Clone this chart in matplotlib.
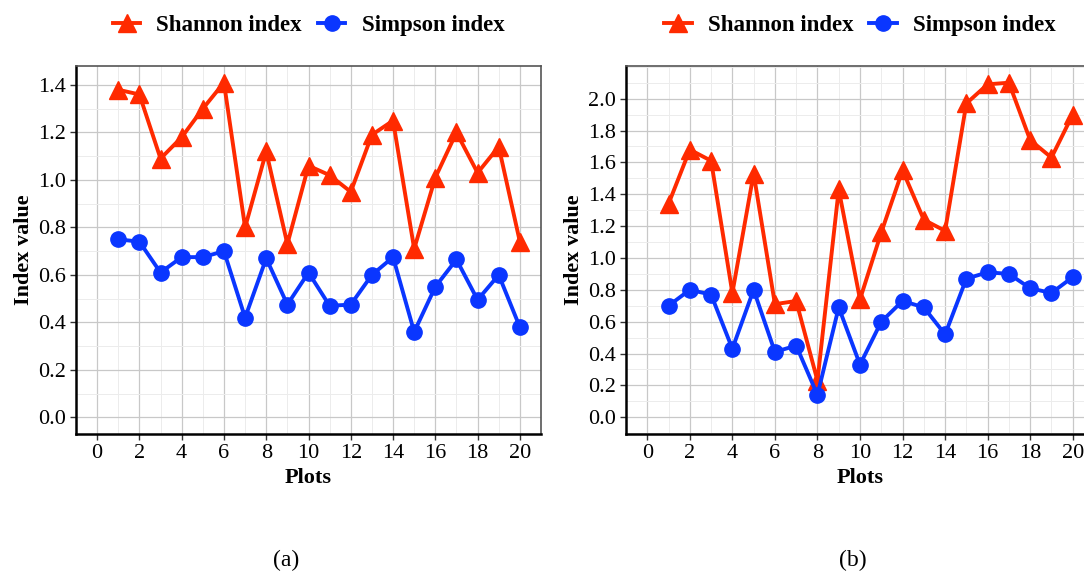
import numpy as np
import matplotlib
matplotlib.use("Agg")
import matplotlib.pyplot as plt
from matplotlib.ticker import MultipleLocator

plt.rcParams['font.family'] = ['Liberation Serif', 'DejaVu Serif']
plt.rcParams['font.size'] = 16

# Diversity indices per plot
plots = np.arange(1, 21)

shannon_a = [1.38, 1.36, 1.09, 1.18, 1.30, 1.41, 0.80, 1.12, 0.73, 1.06,
             1.02, 0.95, 1.19, 1.25, 0.71, 1.01, 1.20, 1.03, 1.14, 0.74]
simpson_a = [0.75, 0.74, 0.61, 0.675, 0.675, 0.70, 0.42, 0.67, 0.475, 0.61,
             0.47, 0.475, 0.60, 0.675, 0.36, 0.55, 0.665, 0.495, 0.60, 0.38]

shannon_b = [1.34, 1.68, 1.61, 0.78, 1.53, 0.71, 0.73, 0.23, 1.43, 0.74,
             1.16, 1.55, 1.24, 1.17, 1.97, 2.09, 2.10, 1.74, 1.63, 1.90]
simpson_b = [0.70, 0.80, 0.77, 0.43, 0.80, 0.41, 0.45, 0.14, 0.69, 0.33,
             0.60, 0.73, 0.69, 0.52, 0.87, 0.91, 0.90, 0.81, 0.78, 0.88]

red = '#ff2a00'
blue = '#0a36ff'

fig = plt.figure(figsize=(10.84, 5.76), dpi=100)
ax_a = fig.add_axes([76 / 1084, 142 / 576, 465 / 1084, 368 / 576])
ax_b = fig.add_axes([626 / 1084, 142 / 576, 468 / 1084, 368 / 576])


def draw_panel(ax, shannon, simpson, ymax, ylim):
    ax.plot(plots, shannon, color=red, lw=2.8, marker='^', ms=13,
            label='Shannon index', zorder=3)
    ax.plot(plots, simpson, color=blue, lw=2.8, marker='o', ms=11,
            label='Simpson index', zorder=3)
    ax.set_xlim(-1, 21)
    ax.set_ylim(*ylim)
    ax.xaxis.set_major_locator(MultipleLocator(2))
    ax.xaxis.set_minor_locator(MultipleLocator(1))
    ax.set_yticks(np.arange(0, ymax + 0.01, 0.2))
    ax.yaxis.set_minor_locator(MultipleLocator(0.1))
    ax.yaxis.set_major_formatter(matplotlib.ticker.FormatStrFormatter('%.1f'))
    ax.grid(which='major', color='#c8c8c8', lw=0.9)
    ax.grid(which='minor', color='#ececec', lw=0.7)
    ax.set_axisbelow(True)
    ax.tick_params(which='major', direction='out', length=4, width=1,
                   color='#333333', labelsize=16, pad=3)
    ax.tick_params(which='minor', length=0)
    for side in ('left', 'bottom'):
        ax.spines[side].set_color('black')
        ax.spines[side].set_linewidth(1.8)
    for side in ('top', 'right'):
        ax.spines[side].set_color('#555555')
        ax.spines[side].set_linewidth(1.2)
    ax.set_xlabel('Plots', fontweight='bold', fontsize=16, labelpad=4)
    ax.set_ylabel('Index value', fontweight='bold', fontsize=16, labelpad=3)
    ax.legend(loc='center', bbox_to_anchor=(0.5, 1.11), ncol=2,
              frameon=False, handlelength=1.2, columnspacing=0.7,
              handletextpad=0.7, prop={'weight': 'bold', 'size': 16.5})


draw_panel(ax_a, shannon_a, simpson_a, 1.4, (-0.07, 1.48))
draw_panel(ax_b, shannon_b, simpson_b, 2.0, (-0.105, 2.205))

fig.text(286 / 1084, 1 - 560 / 576, '(a)', ha='center', va='center', fontsize=17)
fig.text(853 / 1084, 1 - 560 / 576, '(b)', ha='center', va='center', fontsize=17)

fig.savefig('out.png', dpi=100)
